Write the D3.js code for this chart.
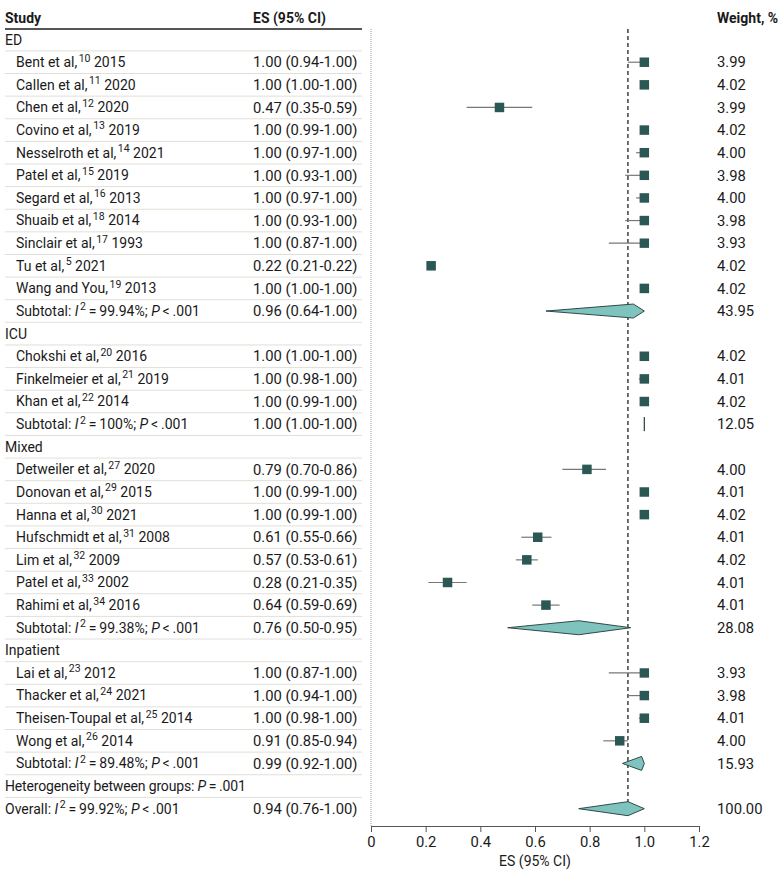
<!DOCTYPE html>
<html>
<head>
<meta charset="utf-8">
<script src="https://cdn.jsdelivr.net/npm/d3@7"></script>
<style>
  body { margin: 0; background: #fff; }
  svg text { font-family: Roboto, Lato, sans-serif; fill: #1a1a1a; }
</style>
</head>
<body>
<div id="chart"></div>
<script>
// group names
const groups = ["ED", "ICU", "Mixed", "Inpatient"];

// studies
const studyAuthor = ["Bent et al,", "Callen et al,", "Chen et al,", "Covino et al,", "Nesselroth et al,", "Patel et al,",
  "Segard et al,", "Shuaib et al,", "Sinclair et al,", "Tu et al,", "Wang and You,",
  "Chokshi et al,", "Finkelmeier et al,", "Khan et al,",
  "Detweiler et al,", "Donovan et al,", "Hanna et al,", "Hufschmidt et al,", "Lim et al,", "Patel et al,", "Rahimi et al,",
  "Lai et al,", "Thacker et al,", "Theisen-Toupal et al,", "Wong et al,"];
const studyRef = ["10", "11", "12", "13", "14", "15", "16", "18", "17", "5", "19",
  "20", "21", "22",
  "27", "29", "30", "31", "32", "33", "34",
  "23", "24", "25", "26"];
const studyYear = ["2015", "2020", "2020", "2019", "2021", "2019", "2013", "2014", "1993", "2021", "2013",
  "2016", "2019", "2014",
  "2020", "2015", "2021", "2008", "2009", "2002", "2016",
  "2012", "2021", "2014", "2014"];
const studyGroup = ["ED", "ED", "ED", "ED", "ED", "ED", "ED", "ED", "ED", "ED", "ED",
  "ICU", "ICU", "ICU",
  "Mixed", "Mixed", "Mixed", "Mixed", "Mixed", "Mixed", "Mixed",
  "Inpatient", "Inpatient", "Inpatient", "Inpatient"];
const studyES = [1.00, 1.00, 0.47, 1.00, 1.00, 1.00, 1.00, 1.00, 1.00, 0.22, 1.00,
  1.00, 1.00, 1.00,
  0.79, 1.00, 1.00, 0.61, 0.57, 0.28, 0.64,
  1.00, 1.00, 1.00, 0.91];
const studyLo = [0.94, 1.00, 0.35, 0.99, 0.97, 0.93, 0.97, 0.93, 0.87, 0.21, 1.00,
  1.00, 0.98, 0.99,
  0.70, 0.99, 0.99, 0.55, 0.53, 0.21, 0.59,
  0.87, 0.94, 0.98, 0.85];
const studyHi = [1.00, 1.00, 0.59, 1.00, 1.00, 1.00, 1.00, 1.00, 1.00, 0.22, 1.00,
  1.00, 1.00, 1.00,
  0.86, 1.00, 1.00, 0.66, 0.61, 0.35, 0.69,
  1.00, 1.00, 1.00, 0.94];
const studyWeight = [3.99, 4.02, 3.99, 4.02, 4.00, 3.98, 4.00, 3.98, 3.93, 4.02, 4.02,
  4.02, 4.01, 4.02,
  4.00, 4.01, 4.02, 4.01, 4.02, 4.01, 4.01,
  3.93, 3.98, 4.01, 4.00];

// subtotals per group
const subES = [0.96, 1.00, 0.76, 0.99];
const subLo = [0.64, 1.00, 0.50, 0.92];
const subHi = [1.00, 1.00, 0.95, 1.00];
const subI2 = ["99.94%", "100%", "99.38%", "89.48%"];
const subWeight = [43.95, 12.05, 28.08, 15.93];

// overall
const overallES = 0.94, overallLo = 0.76, overallHi = 1.00;
const overallI2 = "99.92%";
const overallWeight = 100.00;
const betweenP = ".001";

const xTicks = [0, 0.2, 0.4, 0.6, 0.8, 1.0, 1.2];

const W = 780, H = 879;
const fmt = d3.format(".2f");
const ciText = (e, l, h) => `${fmt(e)} (${fmt(l)}-${fmt(h)})`;

// build the rows
let rows = [];
groups.forEach((g, gi) => {
  rows.push({type: "group", label: g});
  studyGroup.forEach((sg, i) => {
    if (sg !== g) return;
    rows.push({type: "study", author: studyAuthor[i], ref: studyRef[i], year: studyYear[i],
      es: studyES[i], lo: studyLo[i], hi: studyHi[i], w: studyWeight[i]});
  });
  rows.push({type: "sub", i2: subI2[gi], es: subES[gi], lo: subLo[gi], hi: subHi[gi], w: subWeight[gi]});
});
rows.push({type: "het"});
rows.push({type: "overall", i2: overallI2, es: overallES, lo: overallLo, hi: overallHi, w: overallWeight});

const svg = d3.select("#chart").append("svg")
  .attr("width", W).attr("height", H);

const y = d3.scaleLinear().domain([0, rows.length]).range([39.6, 39.6 + 22.62 * rows.length]);
const x = d3.scaleLinear().domain([0, 1.2]).range([371, 699]);
const axisY = 826;
const colLeft = 5, colIndent = 16, colES = 253, colW = 717, lineRight = 362;
const FS = 14, NUM = 14.8;

// superscript helper: raise then drop back, in px
function sup(t, s) {
  t.append("tspan").attr("font-size", 10.5).attr("dx", 1.5).attr("dy", -5.5).text(s);
  return t.append("tspan").attr("dy", 5.5);
}

// header
const header = svg.append("g").attr("font-size", FS).attr("font-weight", "bold");
header.append("text").attr("x", colLeft).attr("y", 18).attr("dy", "0.35em").text("Study");
header.append("text").attr("x", colES).attr("y", 18).attr("dy", "0.35em").text("ES (95% CI)");
header.append("text").attr("x", colW).attr("y", 18).attr("dy", "0.35em").text("Weight, %");
svg.append("line").attr("x1", colLeft).attr("x2", lineRight).attr("y1", 29).attr("y2", 29)
  .attr("stroke", "#555").attr("stroke-width", 2);

// separators
svg.append("g").selectAll("line").data(d3.range(rows.length - 1)).join("line")
  .attr("x1", colLeft).attr("x2", lineRight)
  .attr("y1", i => y(i) + 11.3).attr("y2", i => y(i) + 11.3)
  .attr("stroke", "#e2dfd6").attr("stroke-width", 1);

// dotted vertical at 0
svg.append("line").attr("x1", x(0)).attr("x2", x(0)).attr("y1", 29).attr("y2", axisY)
  .attr("stroke", "#999").attr("stroke-dasharray", "1,1");

// text column
const txt = svg.append("g").attr("font-size", FS);
rows.forEach((r, i) => {
  const yy = y(i);
  if (r.type === "group") {
    txt.append("text").attr("x", colLeft).attr("y", yy).attr("dy", "0.35em").text(r.label);
  } else if (r.type === "study") {
    const t = txt.append("text").attr("x", colIndent).attr("y", yy).attr("dy", "0.35em");
    t.append("tspan").text(r.author);
    sup(t, r.ref).text(" " + r.year);
  } else if (r.type === "sub" || r.type === "overall") {
    const t = txt.append("text").attr("x", r.type === "sub" ? colIndent : colLeft).attr("y", yy).attr("dy", "0.35em");
    t.append("tspan").text(r.type === "sub" ? "Subtotal: " : "Overall: ");
    t.append("tspan").attr("font-style", "italic").text("I");
    sup(t, "2").text("\u2009=\u2009" + r.i2 + "; ");
    t.append("tspan").attr("font-style", "italic").text("P");
    t.append("tspan").text("\u2009<\u2009.001");
  } else if (r.type === "het") {
    const t = txt.append("text").attr("x", colLeft).attr("y", yy).attr("dy", "0.35em")
      .attr("letter-spacing", -0.15);
    t.append("tspan").text("Heterogeneity between groups: ");
    t.append("tspan").attr("font-style", "italic").text("P");
    t.append("tspan").text("\u2009=\u2009" + betweenP);
  }
  if (r.es !== undefined) {
    txt.append("text").attr("x", colES).attr("y", yy).attr("dy", "0.35em").attr("font-size", NUM)
      .text(ciText(r.es, r.lo, r.hi));
    txt.append("text").attr("x", colW).attr("y", yy).attr("dy", "0.35em").attr("font-size", NUM)
      .text(fmt(r.w));
  }
});

// overall dashed reference line
svg.append("line").attr("x1", x(overallES)).attr("x2", x(overallES))
  .attr("y1", 29).attr("y2", y(rows.length - 1))
  .attr("stroke", "#222").attr("stroke-width", 1.3).attr("stroke-dasharray", "4,3");

// study CIs and boxes
const studies = rows.map((r, i) => ({...r, row: i})).filter(r => r.type === "study");
const box = d3.scaleSqrt().domain([0, 4.02]).range([0, 9.5]);
const marks = svg.append("g");
marks.selectAll("line.ci").data(studies).join("line").attr("class", "ci")
  .attr("x1", d => x(d.lo)).attr("x2", d => x(d.hi))
  .attr("y1", d => y(d.row)).attr("y2", d => y(d.row))
  .attr("stroke", "#777").attr("stroke-width", 1.2);
marks.selectAll("rect").data(studies).join("rect")
  .attr("x", d => x(d.es) - box(d.w) / 2).attr("y", d => y(d.row) - box(d.w) / 2)
  .attr("width", d => box(d.w)).attr("height", d => box(d.w))
  .attr("fill", "#2b5755");

// pooled diamonds
const pooled = rows.map((r, i) => ({...r, row: i})).filter(r => r.type === "sub" || r.type === "overall");
marks.selectAll("path").data(pooled).join("path")
  .attr("d", d => {
    const yy = y(d.row), h = 7;
    return `M${x(d.lo)},${yy}L${x(d.es)},${yy - h}L${x(d.hi)},${yy}L${x(d.es)},${yy + h}Z`;
  })
  .attr("fill", "#7fc3bf").attr("stroke", "#2f4a48").attr("stroke-width", 1);

// axis
const axis = svg.append("g").attr("transform", `translate(0,${axisY})`)
  .call(d3.axisBottom(x).tickValues(xTicks).tickSize(6).tickPadding(4)
    .tickFormat(d => d === 0 ? "0" : d3.format(".1f")(d)));
axis.select(".domain").attr("stroke", "#555");
axis.selectAll(".tick line").attr("stroke", "#555");
axis.selectAll(".tick text").attr("font-size", NUM).attr("font-family", "Roboto, sans-serif").attr("fill", "#1a1a1a");
svg.append("text").attr("x", x(0.6)).attr("y", 861).attr("dy", "0.35em")
  .attr("text-anchor", "middle").attr("font-size", FS).text("ES (95% CI)");
</script>
</body>
</html>
